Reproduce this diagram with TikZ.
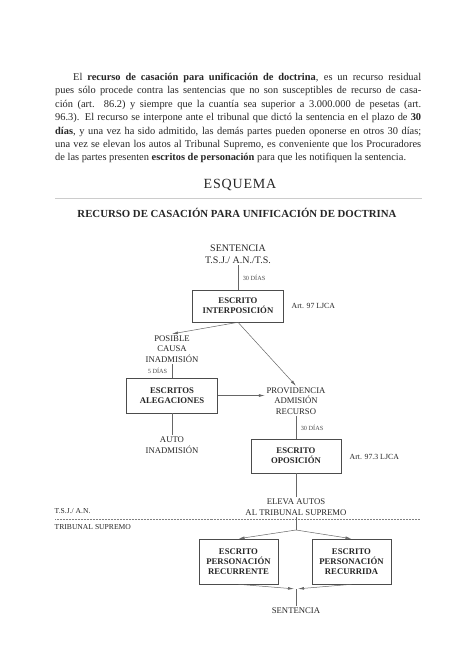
\documentclass[tikz,border=0pt]{standalone}
\usepackage{fontspec}
\setmainfont{Liberation Serif}
\usetikzlibrary{arrows.meta}

\begin{document}
\begin{tikzpicture} [x=1pt, y=-1pt,
 every node/.style = {align=center, text=black!85, inner sep=1.5pt},
 caja/.style = {shape=rectangle, draw=black!70, line width=0.6pt,
 font=\fontsize{8.7}{10}\selectfont\bfseries, minimum width=91pt},
 rotulo/.style = {font=\fontsize{8.7}{10.5}\selectfont},
 plazo/.style = {font=\fontsize{6.3}{7}\selectfont, text=black!70},
 articulo/.style = {font=\fontsize{7.8}{9}\selectfont, anchor=west},
 margen/.style = {font=\fontsize{7.6}{9}\selectfont, anchor=west},
 linea/.style = {draw=black!60, line width=0.5pt},
 flecha/.style = {linea, -{Latex[length=6pt,width=2.8pt]}}]
 \useasboundingbox (0,0) rectangle (474,646);

 \node (texto) [anchor=north west, text width=366pt, align=justify, inner sep=0pt,
 font=\fontsize{10.4}{13.4}\selectfont] at (55,73)
 {\hspace*{18pt}El \textbf{recurso de casación para unificación de doctrina}, es un recurso residual\linebreak
 pues sólo procede contra las sentencias que no son susceptibles de recurso de casa-\linebreak
 ción (art. 86.2) y siempre que la cuantía sea superior a 3.000.000 de pesetas (art.\linebreak
 96.3). El recurso se interpone ante el tribunal que dictó la sentencia en el plazo de \textbf{30}\linebreak
 \textbf{días}, y una vez ha sido admitido, las demás partes pueden oponerse en otros 30 días;\linebreak
 una vez se elevan los autos al Tribunal Supremo, es conveniente que los Procuradores\linebreak
 de las partes presenten \textbf{escritos de personación} para que les notifiquen la sentencia.};

 \node (esquema) [font=\fontsize{14}{16}\selectfont\addfontfeature{LetterSpace=6}] at (240,185) {ESQUEMA};
 \draw [draw=black!20, line width=0.6pt] (55,198) -- (422,198);
 \node (titulo) [font=\fontsize{10.8}{12}\selectfont\bfseries] at (237,213)
 {RECURSO DE CASACIÓN PARA UNIFICACIÓN DE DOCTRINA};

 % tramite ante el tribunal de instancia
 \node (sentencia) [font=\fontsize{10}{12}\selectfont] at (238,254) {SENTENCIA\\T.S.J./ A.N./T.S.};
 \node (interposicion) [caja, minimum height=32pt] at (238,306) {ESCRITO\\INTERPOSICIÓN};
 \node (art97) [articulo] at (290,306) {Art. 97 LJCA};
 \node (posible) [rotulo] at (172,349) {POSIBLE\\CAUSA\\INADMISIÓN};
 \node (alegaciones) [caja, minimum height=35pt] at (172,395.5) {ESCRITOS\\ALEGACIONES};
 \node (auto) [rotulo] at (172,445) {AUTO\\INADMISIÓN};
 \node (providencia) [rotulo] at (296,401) {PROVIDENCIA\\ADMISIÓN\\RECURSO};
 \node (oposicion) [caja, minimum width=90pt, minimum height=34pt] at (296,456) {ESCRITO\\OPOSICIÓN};
 \node (art973) [articulo] at (348,457) {Art. 97.3 LJCA};
 \node (eleva) [rotulo] at (296,507) {ELEVA AUTOS\\AL TRIBUNAL SUPREMO};

 % cambio de tribunal
 \node (tsj) [margen] at (53,511) {T.S.J./ A.N.};
 \node (ts) [margen] at (53,527) {TRIBUNAL SUPREMO};
 \draw [draw=black!50, line width=0.4pt, dash pattern=on 0.6pt off 0.9pt] (55,519) -- (420,519);

 \node (recurrente) [caja, minimum width=79pt, minimum height=45pt] at (238.5,561.5)
 {ESCRITO\\PERSONACIÓN\\RECURRENTE};
 \node (recurrida) [caja, minimum width=79pt, minimum height=45pt] at (351.5,561.5)
 {ESCRITO\\PERSONACIÓN\\RECURRIDA};
 \coordinate (reparto) at (296,530);
 \coordinate (union) at (296,589);
 \node (fallo) [rotulo] at (296,611) {SENTENCIA};

 \path [linea] (sentencia) -- node [plazo, right, xshift=3pt] {30 DÍAS} (interposicion);
 \draw [flecha] (interposicion.south) -- (posible.north);
 \draw [flecha] (interposicion.south) -- (providencia.north);
 \path [linea] (posible) -- node [plazo, left, xshift=-3pt] {5 DÍAS} (alegaciones);
 \draw [flecha] (alegaciones.east) -- (alegaciones.east -| providencia.west);
 \draw [linea] (alegaciones) -- (auto);
 \path [linea] (providencia) -- node [plazo, right, xshift=3pt] {30 DÍAS} (oposicion);
 \draw [linea] (oposicion) -- (eleva);
 \draw [linea] (eleva) -- (reparto);
 \draw [flecha] (reparto) -- (recurrente.north);
 \draw [flecha] (reparto) -- (recurrida.north);
 \draw [flecha, shorten >=2pt] (recurrente.south) -- (union);
 \draw [flecha, shorten >=2pt] (recurrida.south) -- (union);
 \draw [linea] (union) -- (fallo);
\end{tikzpicture}
\end{document}
